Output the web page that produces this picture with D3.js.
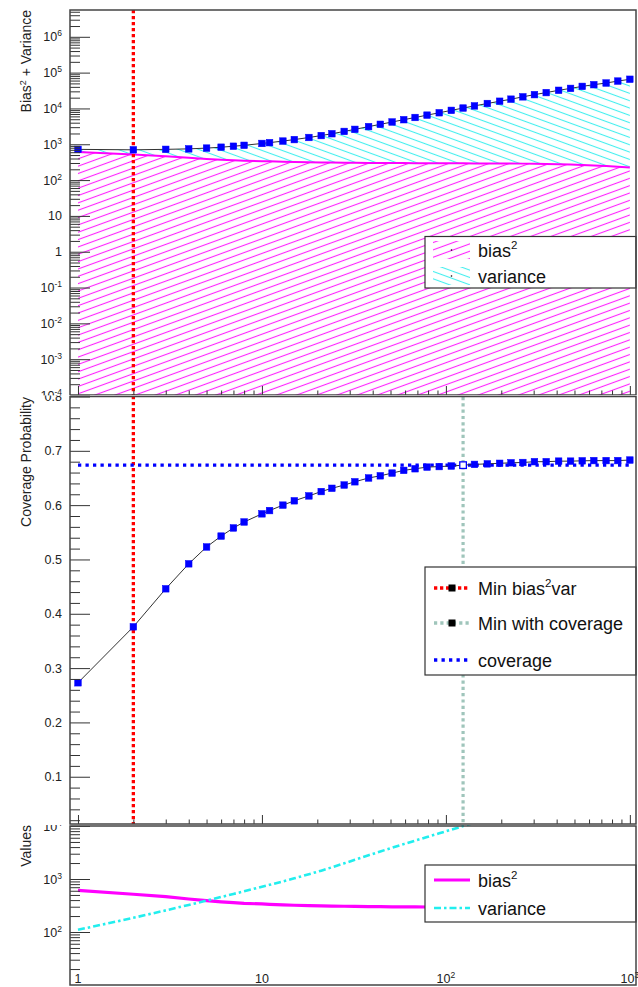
<!DOCTYPE html>
<html>
<head>
<meta charset="utf-8">
<script src="https://cdn.jsdelivr.net/npm/d3@7"></script>
<style>
  html, body { margin: 0; padding: 0; background: #fff; }
  svg { display: block; font-family: "Liberation Sans", Arial, Helvetica, sans-serif; }
</style>
</head>
<body>
<svg id="chart" width="638" height="987"></svg>
<script>
// Scan points (number of iterations)
const nValues = [1, 2, 3, 4, 5, 6, 7, 8, 10, 11, 13, 15, 18, 21, 24, 28, 32, 38, 44, 51,
                 59, 68, 79, 92, 107, 124, 143, 168, 196, 226, 262, 303, 351, 410, 476, 551,
                 637, 743, 860, 1000];
// Squared bias at each scan point
const bias2 = [610, 515, 465, 420, 390, 370, 358, 348, 338, 333, 325, 320, 315, 311, 308, 306,
               304, 302, 300, 299, 298, 297, 296, 295, 294, 293, 292, 291, 290, 289, 288, 286,
               283, 278, 272, 265, 256, 246, 236, 225];
// Variance at each scan point
const variance = [110, 185, 256, 324, 391, 457, 522, 586, 715, 776, 902, 1030, 1229, 1438, 1661,
                  1974, 2302, 2805, 3304, 3887, 4551, 5290, 6200, 7285, 8538, 9955, 11480, 13443,
                  15587, 17846, 20800, 24000, 27400, 31800, 36000, 41000, 45800, 51000, 57800, 65000];
// Coverage probability at each scan point
const coverage = [0.273, 0.376, 0.446, 0.492, 0.523, 0.543, 0.558, 0.569, 0.584, 0.590, 0.600,
                  0.608, 0.617, 0.625, 0.631, 0.637, 0.643, 0.650, 0.654, 0.659, 0.664, 0.667,
                  0.670, 0.671, 0.672, 0.6736, 0.675, 0.676, 0.677, 0.678, 0.6785, 0.680, 0.680,
                  0.681, 0.681, 0.6816, 0.682, 0.682, 0.682, 0.683];
const minBiasVarN = 2;       // minimum of bias^2 + variance
const minCoverageN = 124;    // first point reaching the coverage target
const coverageTarget = 0.6736;

// Axis tick values
const xMajor = [1, 10, 100, 1000];
const xMinor = [2,3,4,5,6,7,8,9,20,30,40,50,60,70,80,90,200,300,400,500,600,700,800,900];
const topExponents = [-4, -3, -2, -1, 0, 1, 2, 3, 4, 5, 6];
const covMajor = [0.1, 0.2, 0.3, 0.4, 0.5, 0.6, 0.7, 0.8];
const botExponents = [2, 3, 4];

const W = 638, H = 987, L = 70, R = 636;
const svg = d3.select("#chart");
const defs = svg.append("defs");

function clip(id, y0, y1) {
  defs.append("clipPath").attr("id", id).append("rect")
    .attr("x", 0).attr("y", y0).attr("width", W).attr("height", y1 - y0);
}
clip("clipTop", 0, 395.5);
clip("clipMid", 395.5, 825);
clip("clipBot", 825, H);

function hatch(id, color, angle) {
  const p = defs.append("pattern").attr("id", id)
    .attr("patternUnits", "userSpaceOnUse")
    .attr("width", 12).attr("height", 6.9)
    .attr("patternTransform", `rotate(${angle})`);
  p.append("line").attr("x1", 0).attr("x2", 12).attr("y1", 3.45).attr("y2", 3.45)
    .attr("stroke", color).attr("stroke-width", 1.1);
}
hatch("hatchBias", "#ff22ff", -20);
hatch("hatchVar", "#44eeee", 20);

const x = d3.scaleLog().domain([0.905, 1080]).range([L, R]);
const yTop = d3.scaleLog().domain([1e-4, 5.6e6]).range([395, 10]);
const yMid = d3.scaleLinear().domain([0.013, 0.8]).range([824, 396.5]);
const yBot = d3.scaleLog().domain([10, 1e4]).range([985, 826]);

const pts = nValues.map((n, i) => ({ n, b: bias2[i], v: variance[i], t: bias2[i] + variance[i], c: coverage[i] }));

function powLabel(sel, v, supSize) {
  const e = Math.round(Math.log10(v));
  sel.text(null);
  if (e === 0) sel.text("1");
  else if (e === 1) sel.text("10");
  else {
    sel.append("tspan").text("10");
    sel.append("tspan").attr("font-size", supSize).attr("dy", -5).text(e);
  }
}

function logMinors(exps) {
  const out = [];
  exps.forEach(e => { for (let m = 2; m <= 9; m++) out.push(m * Math.pow(10, e)); });
  return out;
}

function yAxis(g, scale, majors, minors, fmt) {
  const ga = g.append("g").attr("transform", `translate(${L},0)`);
  ga.append("g").call(d3.axisLeft(scale).tickValues(minors).tickSizeInner(-10).tickSizeOuter(0).tickFormat(""));
  const gm = ga.append("g").call(d3.axisLeft(scale).tickValues(majors).tickSizeInner(-20).tickSizeOuter(0).tickPadding(8).tickFormat(d => d));
  ga.selectAll(".domain").remove();
  ga.selectAll("line").attr("stroke", "#333").attr("stroke-width", 1);
  gm.selectAll("text").attr("font-size", 12.5).attr("fill", "#222")
    .attr("font-family", "'Liberation Sans', Arial, sans-serif")
    .each(function (d) { fmt(d3.select(this), d); });
}

function xTicks(g, yPos) {
  const ga = g.append("g").attr("transform", `translate(0,${yPos})`);
  ga.append("g").call(d3.axisBottom(x).tickValues(xMinor).tickSizeInner(-4.5).tickSizeOuter(0).tickFormat(""));
  ga.append("g").call(d3.axisBottom(x).tickValues(xMajor).tickSizeInner(-9).tickSizeOuter(0).tickFormat(""));
  ga.selectAll(".domain").remove();
  ga.selectAll("line").attr("stroke", "#333").attr("stroke-width", 1);
}

function frame(g, y0, y1) {
  g.append("rect").attr("x", L).attr("y", y0).attr("width", R - L).attr("height", y1 - y0)
    .attr("fill", "none").attr("stroke", "#444").attr("stroke-width", 1.5);
}

function title(g, yEnd) {
  return g.append("text").attr("transform", `translate(30.5,${yEnd}) rotate(-90)`)
    .attr("text-anchor", "end").attr("font-size", 14).attr("fill", "#222");
}

function markers(g, data, yFn, yScale, hollowN) {
  g.selectAll(null).data(data).enter().append("rect")
    .attr("x", d => x(d.n) - 3.3).attr("y", d => yScale(yFn(d)) - 3.3)
    .attr("width", 6.6).attr("height", 6.6)
    .attr("fill", d => d.n === hollowN ? "#fff" : "#0000ff")
    .attr("stroke", "#0000ff").attr("stroke-width", d => d.n === hollowN ? 1.3 : 0.5);
}

function legendBox(g, y0, y1) {
  g.append("rect").attr("x", 425).attr("y", y0).attr("width", R - 425).attr("height", y1 - y0)
    .attr("fill", "#fff").attr("stroke", "#333").attr("stroke-width", 1.2);
}
function legendText(g, yc, parts) {
  const t = g.append("text").attr("x", 478).attr("y", yc + 6.5).attr("font-size", 18).attr("fill", "#111");
  parts.forEach(p => {
    if (p.sup) t.append("tspan").attr("font-size", 11.5).attr("dy", -8).text(p.sup);
    else t.append("tspan").attr("dy", p.after ? 8 : 0).text(p.t);
  });
}

/* ---------------- top panel: bias^2 + variance ---------------- */
const gTop = svg.append("g").attr("clip-path", "url(#clipTop)");
gTop.append("path").datum(pts)
  .attr("d", d3.area().x(d => x(d.n)).y0(yTop.range()[0]).y1(d => yTop(d.b)))
  .attr("fill", "url(#hatchBias)");
gTop.append("path").datum(pts)
  .attr("d", d3.area().x(d => x(d.n)).y0(d => yTop(d.b)).y1(d => yTop(d.t)))
  .attr("fill", "url(#hatchVar)");
gTop.append("path").datum(pts)
  .attr("d", d3.line().x(d => x(d.n)).y(d => yTop(d.b)))
  .attr("fill", "none").attr("stroke", "#ff00ff").attr("stroke-width", 2);
gTop.append("line").attr("x1", x(minBiasVarN)).attr("x2", x(minBiasVarN))
  .attr("y1", 10).attr("y2", 395)
  .attr("stroke", "#ff0000").attr("stroke-width", 3.3).attr("stroke-dasharray", "3.3 2.7");
gTop.append("path").datum(pts)
  .attr("d", d3.line().x(d => x(d.n)).y(d => yTop(d.t)))
  .attr("fill", "none").attr("stroke", "#333").attr("stroke-width", 1);
markers(gTop, pts, d => d.t, yTop, null);

legendBox(gTop, 236.5, 288);
gTop.append("rect").attr("x", 433).attr("y", 241).attr("width", 37).attr("height", 18).attr("fill", "url(#hatchBias)");
gTop.append("rect").attr("x", 433).attr("y", 267).attr("width", 37).attr("height", 18).attr("fill", "url(#hatchVar)");
gTop.append("circle").attr("cx", 451.5).attr("cy", 250).attr("r", 0.8).attr("fill", "#000");
gTop.append("circle").attr("cx", 451.5).attr("cy", 276).attr("r", 0.8).attr("fill", "#000");
legendText(gTop, 250, [{ t: "bias" }, { sup: "2" }]);
legendText(gTop, 276, [{ t: "variance" }]);

const topMinors = logMinors(d3.range(-4, 7)).filter(v => v < 5.6e6);
yAxis(gTop, yTop, topExponents.map(e => Math.pow(10, e)), topMinors, (s, d) => powLabel(s, d, 8.5));
xTicks(gTop, 395);
frame(gTop, 10, 395);
title(gTop, 10).call(t => {
  t.append("tspan").text("Bias");
  t.append("tspan").attr("font-size", 9).attr("dy", -5).text("2");
  t.append("tspan").attr("dy", 5).text(" + Variance");
});

/* ---------------- middle panel: coverage probability ---------------- */
const gMid = svg.append("g").attr("clip-path", "url(#clipMid)");
gMid.append("rect").attr("x", 0).attr("y", 395.5).attr("width", W).attr("height", 430).attr("fill", "#fff");
gMid.append("line").attr("x1", x(minBiasVarN)).attr("x2", x(minBiasVarN))
  .attr("y1", 396).attr("y2", 824)
  .attr("stroke", "#ff0000").attr("stroke-width", 3.3).attr("stroke-dasharray", "3.3 2.7");
gMid.append("line").attr("x1", x(minCoverageN)).attr("x2", x(minCoverageN))
  .attr("y1", 397).attr("y2", 824)
  .attr("stroke", "#9fc5bb").attr("stroke-width", 3.2).attr("stroke-dasharray", "3.2 3.1");
gMid.append("line").attr("x1", x(1)).attr("x2", x(1000))
  .attr("y1", yMid(coverageTarget)).attr("y2", yMid(coverageTarget))
  .attr("stroke", "#0000ff").attr("stroke-width", 3.3).attr("stroke-dasharray", "3.3 4.2");
gMid.append("path").datum(pts)
  .attr("d", d3.line().x(d => x(d.n)).y(d => yMid(d.c)))
  .attr("fill", "none").attr("stroke", "#333").attr("stroke-width", 1);
markers(gMid, pts, d => d.c, yMid, minCoverageN);

legendBox(gMid, 567, 675);
[[588, "#ff0000", "3.3 2.7", true], [623, "#9fc5bb", "3.2 3.1", true], [660, "#0000ff", "3.3 4.2", false]]
  .forEach(([yc, col, dash, mk]) => {
    gMid.append("line").attr("x1", 434).attr("x2", 470).attr("y1", yc).attr("y2", yc)
      .attr("stroke", col).attr("stroke-width", 3.3).attr("stroke-dasharray", dash);
    if (mk) gMid.append("rect").attr("x", 448.5).attr("y", yc - 3.5).attr("width", 7).attr("height", 7).attr("fill", "#000");
  });
legendText(gMid, 588, [{ t: "Min bias" }, { sup: "2" }, { t: "var", after: true }]);
legendText(gMid, 623, [{ t: "Min with coverage" }]);
legendText(gMid, 660, [{ t: "coverage" }]);

const covMinor = d3.range(0.02, 0.8, 0.02).filter(v => Math.abs(v * 10 - Math.round(v * 10)) > 1e-6);
yAxis(gMid, yMid, covMajor, covMinor, (s, d) => s.text(d3.format(".1f")(d)));
xTicks(gMid, 824);
frame(gMid, 396.5, 824);
title(gMid, 397).text("Coverage Probability");

/* ---------------- bottom panel: bias^2 and variance ---------------- */
const gBot = svg.append("g").attr("clip-path", "url(#clipBot)");
gBot.append("rect").attr("x", 0).attr("y", 825).attr("width", W).attr("height", H - 825).attr("fill", "#fff");
gBot.append("path").datum(pts)
  .attr("d", d3.line().x(d => x(d.n)).y(d => yBot(d.b)))
  .attr("fill", "none").attr("stroke", "#ff00ff").attr("stroke-width", 3.2);
gBot.append("path").datum(pts)
  .attr("d", d3.line().x(d => x(d.n)).y(d => yBot(d.v)))
  .attr("fill", "none").attr("stroke", "#22eeee").attr("stroke-width", 2.6)
  .attr("stroke-dasharray", "7 3 2.5 3");

legendBox(gBot, 865, 922);
gBot.append("line").attr("x1", 434).attr("x2", 470).attr("y1", 880).attr("y2", 880)
  .attr("stroke", "#ff00ff").attr("stroke-width", 3.2);
gBot.append("line").attr("x1", 434).attr("x2", 470).attr("y1", 908).attr("y2", 908)
  .attr("stroke", "#22eeee").attr("stroke-width", 2.6).attr("stroke-dasharray", "7 3 2.5 3");
legendText(gBot, 880, [{ t: "bias" }, { sup: "2" }]);
legendText(gBot, 908, [{ t: "variance" }]);

yAxis(gBot, yBot, botExponents.map(e => Math.pow(10, e)), logMinors([1, 2, 3]), (s, d) => powLabel(s, d, 8.5));
frame(gBot, 826, 985);
title(gBot, 825).text("Values");

// x-axis labels along the lowest panel
gBot.selectAll(null).data(xMajor).enter().append("text")
  .attr("x", d => x(d)).attr("y", 983).attr("text-anchor", "middle")
  .attr("font-size", 12.5).attr("fill", "#222")
  .each(function (d) { powLabel(d3.select(this), d, 8.5); });
</script>
</body>
</html>
